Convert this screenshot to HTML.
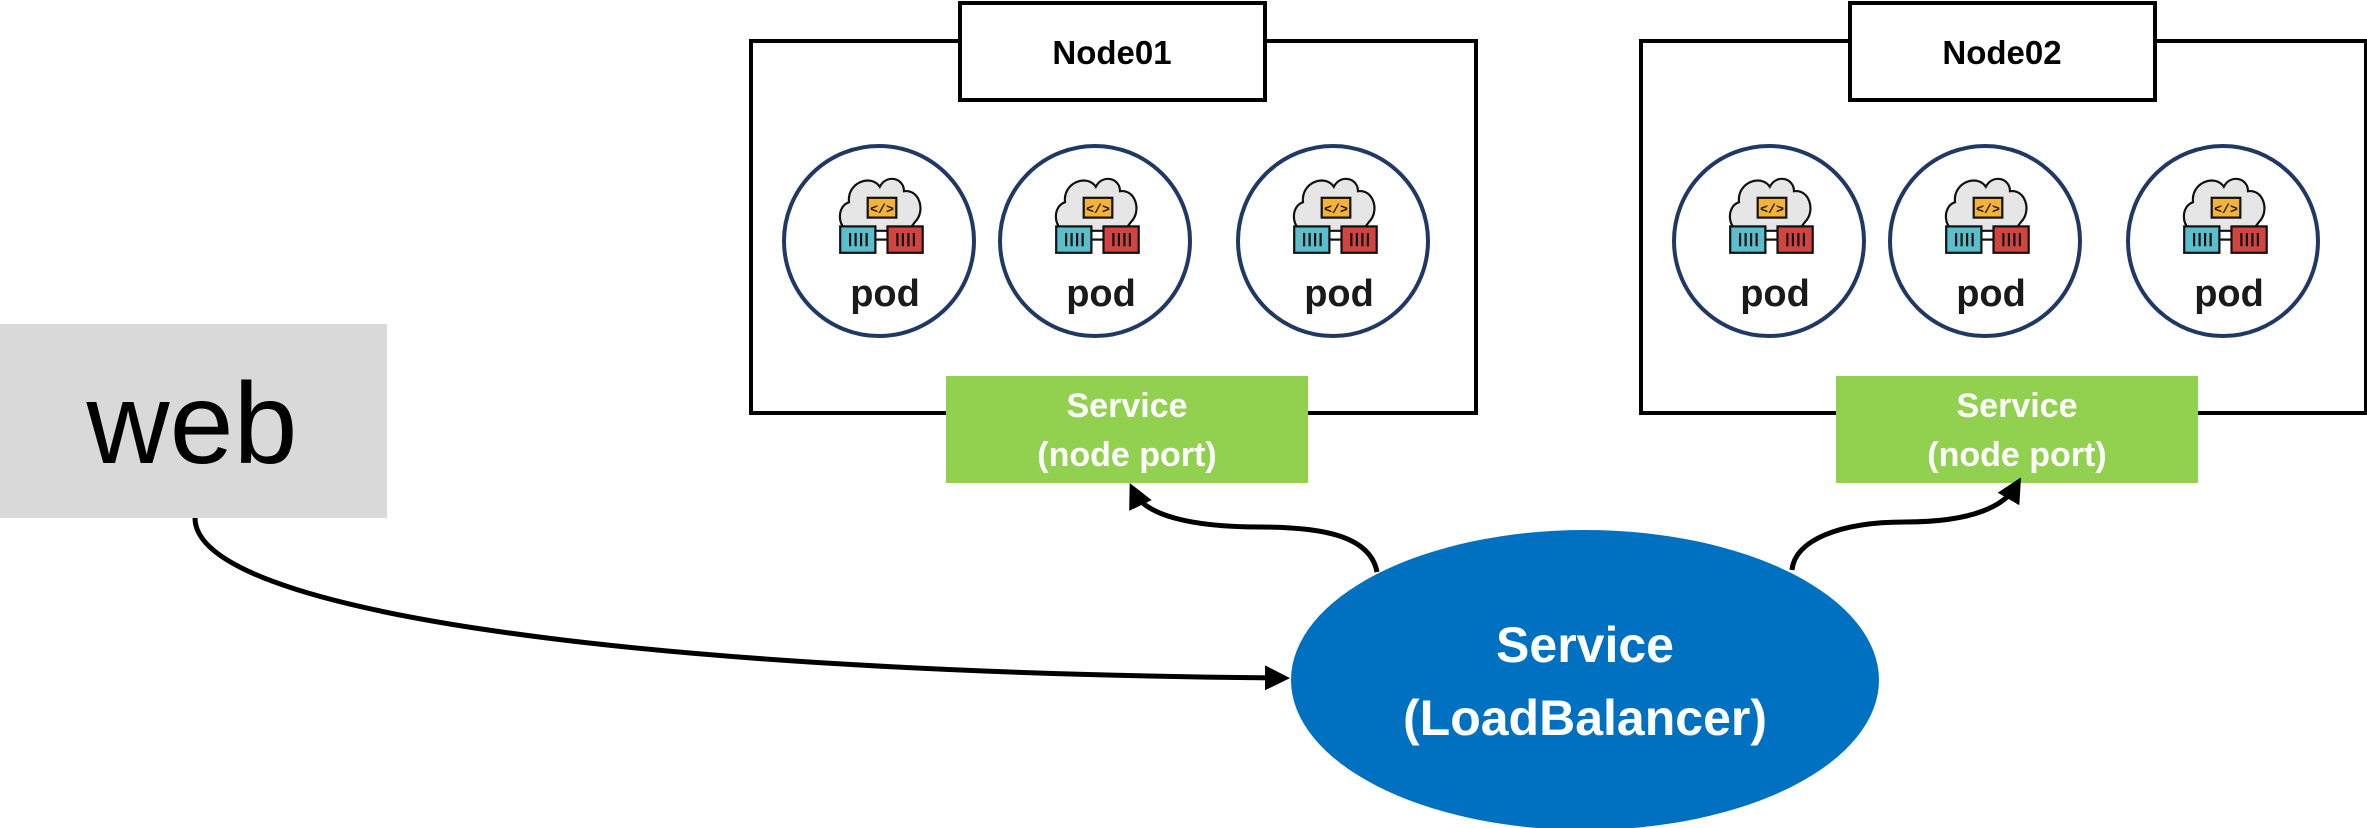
<!DOCTYPE html>
<html><head><meta charset="utf-8"><style>
html,body{margin:0;padding:0;background:#fff;}
svg{display:block}
</style></head><body>
<svg width="2367" height="828" viewBox="0 0 2367 828" xmlns="http://www.w3.org/2000/svg">
<defs>
<marker id="ah" markerWidth="5" markerHeight="5" refX="3" refY="2.5" orient="auto" markerUnits="strokeWidth">
<path d="M0,0 L5,2.5 L0,5 z" fill="#000"/>
</marker>
<g id="icon">
  <path d="M-30,8 C-40,6 -42,-14 -30,-18 C-32,-36 -10,-44 -2,-32 C4,-44 20,-40 20,-28 C34,-30 40,-10 30,0 L24,8 Z" fill="#e6e6e6" stroke="#111" stroke-width="2"/>
  <rect x="-13" y="-22" width="26" height="18" fill="#f5b335" stroke="#111" stroke-width="2"/>
  <text x="0" y="-8" font-family="Liberation Mono, monospace" font-size="12" font-weight="bold" text-anchor="middle" fill="#111">&lt;/&gt;</text>
  <line x1="-6" y1="16" x2="6" y2="16" stroke="#111" stroke-width="2"/>
  <rect x="-38" y="4" width="32" height="24" fill="#5bbfcb" stroke="#111" stroke-width="2"/>
  <rect x="5" y="4" width="32" height="24" fill="#d24440" stroke="#111" stroke-width="2"/>
  <path d="M-29,10v12M-24,10v12M-19,10v12M-14,10v12M14,10v12M19,10v12M24,10v12M29,10v12" stroke="#111" stroke-width="2"/>
</g>
<g id="pod">
  <circle cx="0" cy="0" r="95" fill="#fff" stroke="#1f3864" stroke-width="4"/>
  <use href="#icon" transform="translate(3,-19) scale(1.1)"/>
  <text x="6" y="65" font-family="Liberation Sans, sans-serif" font-size="38" font-weight="bold" text-anchor="middle" fill="#1a1a1a">pod</text>
</g>
<g id="node">
  <rect x="751" y="41" width="725" height="372" fill="#fff" stroke="#000" stroke-width="4"/>
  <rect x="960" y="3" width="305" height="97" fill="#fff" stroke="#000" stroke-width="4"/>
  <use href="#pod" x="879" y="241"/>
  <use href="#pod" x="1095" y="241"/>
  <use href="#pod" x="1333" y="241"/>
  <rect x="946" y="376" width="362" height="107" fill="#92d050"/>
  <text x="1127" y="417" font-family="Liberation Sans, sans-serif" font-size="34" font-weight="bold" text-anchor="middle" fill="#fff">Service</text>
  <text x="1127" y="466" font-family="Liberation Sans, sans-serif" font-size="34" font-weight="bold" text-anchor="middle" fill="#fff">(node port)</text>
</g>
</defs>

<rect x="0" y="324" width="387" height="194" fill="#d9d9d9"/>
<text x="192" y="463" font-family="Liberation Sans, sans-serif" font-size="115" text-anchor="middle" fill="#000">web</text>

<use href="#node"/>
<text x="1112" y="64" font-family="Liberation Sans, sans-serif" font-size="33" font-weight="bold" text-anchor="middle" fill="#000">Node01</text>
<use href="#node" x="890" y="0"/>
<text x="2002" y="64" font-family="Liberation Sans, sans-serif" font-size="33" font-weight="bold" text-anchor="middle" fill="#000">Node02</text>

<ellipse cx="1585" cy="680" rx="294" ry="150" fill="#0070c0"/>
<text x="1585" y="662" font-family="Liberation Sans, sans-serif" font-size="50" font-weight="bold" text-anchor="middle" fill="#fff">Service</text>
<text x="1585" y="735" font-family="Liberation Sans, sans-serif" font-size="50" font-weight="bold" text-anchor="middle" fill="#fff">(LoadBalancer)</text>

<g fill="none" stroke="#000" stroke-width="5">
  <path d="M195,518 C195,610 620,672 1280,678" marker-end="url(#ah)"/>
  <path d="M1377,572 C1370,535 1320,527 1260,527 C1190,527 1145,515 1134,492" marker-end="url(#ah)"/>
  <path d="M1792,570 C1795,540 1840,522 1905,522 C1975,522 2005,505 2016,486" marker-end="url(#ah)"/>
</g>
</svg>
</body></html>
